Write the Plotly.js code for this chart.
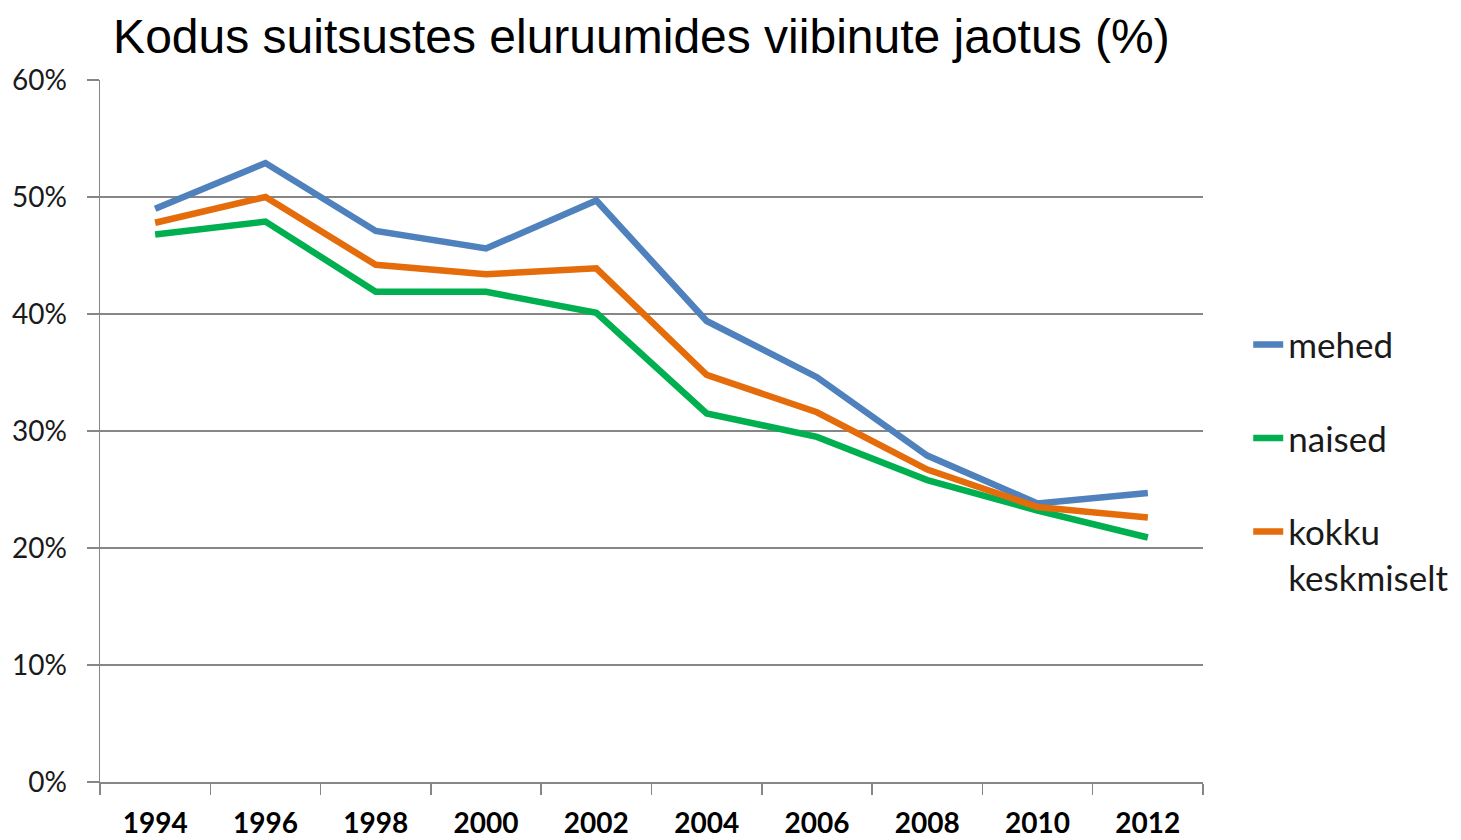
<!DOCTYPE html>
<html>
<head>
<meta charset="utf-8">
<script src="https://cdn.plot.ly/plotly-3.0.1.min.js"></script>
<style>html,body{margin:0;padding:0;background:#fff;}#chart{width:1461px;height:840px;}</style>
</head>
<body>
<div id="chart"></div>
<script>
const years = ['1994','1996','1998','2000','2002','2004','2006','2008','2010','2012'];
const mehed = [49.0, 52.9, 47.1, 45.6, 49.7, 39.4, 34.6, 27.9, 23.8, 24.7];
const naised = [46.8, 47.9, 41.9, 41.9, 40.1, 31.5, 29.5, 25.8, 23.2, 20.9];
const kokku = [47.8, 50.0, 44.2, 43.4, 43.9, 34.8, 31.6, 26.7, 23.5, 22.6];
const seriesNames = ['mehed', 'naised', 'kokku<br>keskmiselt'];
const yTicks = [0, 10, 20, 30, 40, 50, 60];

const lineW = 6.5;
const traces = [
  {x: years, y: mehed, name: seriesNames[0], legendgroup: 'g1', type: 'scatter', mode: 'lines', line: {color: '#4F81BD', width: lineW}},
  {x: years, y: naised, name: seriesNames[1], legendgroup: 'g2', type: 'scatter', mode: 'lines', line: {color: '#00B050', width: lineW}},
  {x: years, y: kokku, name: seriesNames[2], legendgroup: 'g3', type: 'scatter', mode: 'lines', line: {color: '#E46C0A', width: lineW}}
];

const layout = {
  width: 1461, height: 840,
  margin: {l: 100, r: 258, t: 80, b: 58, autoexpand: false},
  paper_bgcolor: '#fff', plot_bgcolor: '#fff',
  title: {
    text: 'Kodus suitsustes eluruumides viibinute jaotus (%)',
    font: {family: 'Liberation Sans, Arial, sans-serif', size: 48, color: '#000'},
    xref: 'container', x: 0.439, xanchor: 'center',
    yref: 'container', y: 0.957, yanchor: 'middle'
  },
  xaxis: {
    type: 'category',
    range: [-0.5, 9.5],
    tickson: 'boundaries',
    ticks: 'outside', ticklen: 11, tickcolor: '#868686', tickwidth: 1.5,
    showline: true, linecolor: '#868686', linewidth: 1.5,
    showgrid: false, zeroline: false,
    tickfont: {family: 'Lato, Open Sans, sans-serif', size: 28, color: '#000', weight: 'bold'},
    ticklabelstandoff: 16,
    fixedrange: true
  },
  yaxis: {
    range: [0, 60],
    tickvals: yTicks,
    ticktext: yTicks.map(v => v + '%'),
    ticks: 'outside', ticklen: 12, tickcolor: '#868686', tickwidth: 1.5,
    showline: true, linecolor: '#868686', linewidth: 1.5,
    showgrid: true, gridcolor: '#868686', gridwidth: 1.2,
    zeroline: false,
    tickfont: {family: 'Lato, Open Sans, sans-serif', size: 28, color: '#1a1a1a'},
    ticklabelstandoff: 14,
    fixedrange: true
  },
  legend: {
    x: 1.041, xanchor: 'left', y: 0.665, yanchor: 'top',
    font: {family: 'Lato, Open Sans, sans-serif', size: 35, color: '#1a1a1a'},
    tracegroupgap: 45,
    valign: 'top',
    itemwidth: 30,
    bgcolor: 'rgba(0,0,0,0)'
  },
  showlegend: true
};

Plotly.newPlot('chart', traces, layout, {displayModeBar: false, staticPlot: true});
</script>
</body>
</html>
